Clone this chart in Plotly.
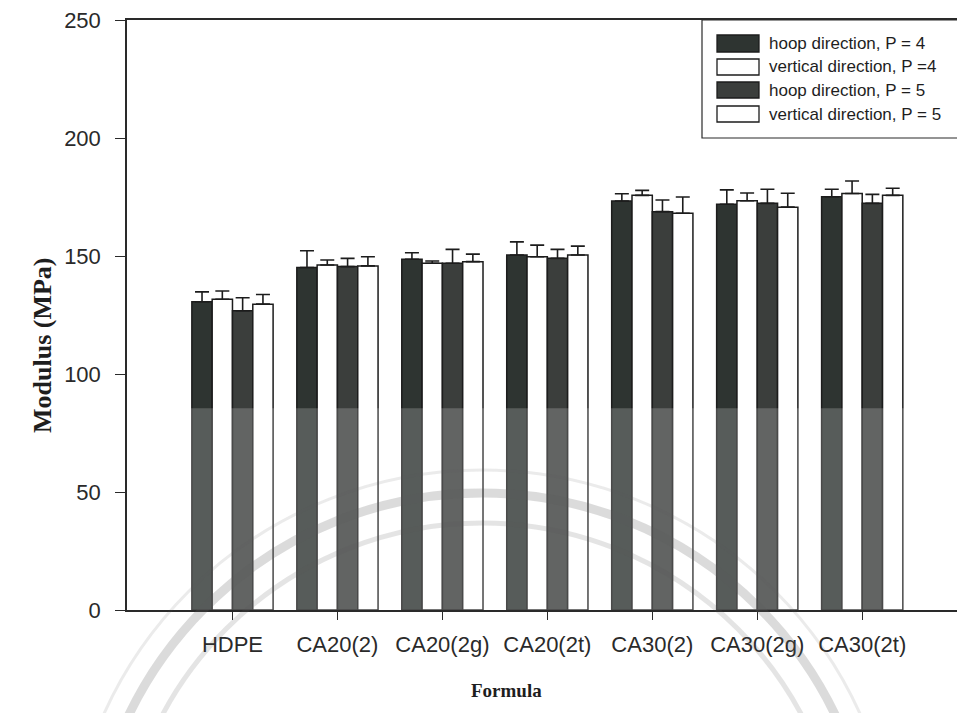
import plotly.graph_objects as go

# Formulations on the category axis
formulas = ["HDPE", "CA20(2)", "CA20(2g)", "CA20(2t)", "CA30(2)", "CA30(2g)", "CA30(2t)"]

# Tensile modulus (MPa) and standard deviations
hoop_p4 = [130.6, 145.1, 148.6, 150.4, 173.3, 171.9, 175.1]
hoop_p4_sd = [4.2, 7.1, 2.8, 5.6, 3.1, 6.1, 3.2]
vert_p4 = [131.7, 146.2, 146.9, 149.7, 175.7, 173.4, 176.5]
vert_p4_sd = [3.5, 2.1, 1.0, 4.9, 2.1, 3.3, 5.3]
hoop_p5 = [126.8, 145.5, 146.9, 149.0, 168.8, 172.3, 172.3]
hoop_p5_sd = [5.5, 3.5, 5.9, 3.8, 4.9, 6.0, 3.8]
vert_p5 = [129.6, 145.8, 147.6, 150.4, 168.1, 170.7, 175.7]
vert_p5_sd = [4.1, 3.9, 3.2, 3.8, 6.9, 5.9, 3.0]

series_names = ["hoop direction, P = 4", "vertical direction, P =4",
                "hoop direction, P = 5", "vertical direction, P = 5"]
series_values = [hoop_p4, vert_p4, hoop_p5, vert_p5]
series_sd = [hoop_p4_sd, vert_p4_sd, hoop_p5_sd, vert_p5_sd]
series_fill = ["#2e3431", "#ffffff", "#3b3e3c", "#ffffff"]

W, H = 957, 713
L, R, T, B = 127, 957, 20, 610  # plot area in pixels


def px(x):
    return (x - L) / (R - L)


def py(y):
    return (B - y) / (B - T)


fig = go.Figure()
for name, vals, sd, fill in zip(series_names, series_values, series_sd, series_fill):
    fig.add_trace(go.Bar(
        x=formulas, y=vals, name=name, showlegend=False,
        marker=dict(color=fill, line=dict(color="#1c1c1c", width=1.5)),
        error_y=dict(type="data", symmetric=False, array=sd,
                     arrayminus=[0] * len(sd), color="#1c1c1c",
                     thickness=1.6, width=7),
    ))

shapes = []
annotations = []

# lighter tone over the lower part of the bars
shapes.append(dict(type="rect", xref="paper", yref="y", x0=0, x1=1, y0=0, y1=85.5,
                   fillcolor="rgba(255,255,255,0.2)", line=dict(width=0), layer="above"))

# faint seal arcs in the background
for r, w, a in [(392, 9, 0.22), (362, 5, 0.16), (415, 3, 0.12)]:
    cx, cy = 482, 885
    shapes.append(dict(type="circle", xref="paper", yref="paper",
                       x0=px(cx - r), x1=px(cx + r), y0=py(cy + r), y1=py(cy - r),
                       line=dict(color=f"rgba(90,90,90,{a})", width=w), layer="above"))

# legend box
shapes.append(dict(type="rect", xref="paper", yref="paper",
                   x0=px(702), x1=px(975), y0=py(138), y1=py(T),
                   fillcolor="white", line=dict(color="#2a2a2a", width=1.2), layer="above"))
rows = [(35, 52), (59, 75), (82, 98), (106, 122)]
for (y0, y1), name, fill in zip(rows, series_names, series_fill):
    shapes.append(dict(type="rect", xref="paper", yref="paper",
                       x0=px(717), x1=px(759), y0=py(y1), y1=py(y0),
                       fillcolor=fill, line=dict(color="#1c1c1c", width=1.3), layer="above"))
    annotations.append(dict(xref="paper", yref="paper", x=px(767), y=py((y0 + y1) / 2),
                            text=name, showarrow=False, xanchor="left", yanchor="middle",
                            font=dict(family="Liberation Sans, Arial", size=17, color="#1e1e1e")))

# axis titles
annotations.append(dict(xref="paper", yref="paper", x=px(42), y=py(345), text="<b>Modulus (MPa)</b>",
                        textangle=-90, showarrow=False, xanchor="center", yanchor="middle",
                        font=dict(family="Liberation Serif, Times New Roman", size=26, color="#1e1e1e")))
annotations.append(dict(xref="paper", yref="paper", x=px(506), y=py(690), text="<b>Formula</b>",
                        showarrow=False, xanchor="center", yanchor="middle",
                        font=dict(family="Liberation Serif, Times New Roman", size=19, color="#1e1e1e")))

tick_font = dict(family="Liberation Sans, Arial", size=22, color="#2a2a2a")
fig.update_layout(
    width=W, height=H,
    margin=dict(l=L, r=W - R, t=T, b=H - B),
    paper_bgcolor="white", plot_bgcolor="white",
    barmode="group", bargap=0.226, bargroupgap=0,
    shapes=shapes, annotations=annotations,
    xaxis=dict(type="category", range=[-1.005, 6.903], showgrid=False, zeroline=False,
               showline=True, linecolor="#2a2a2a", linewidth=1.5, mirror=True,
               ticks="outside", ticklen=8, tickwidth=1.3, tickcolor="#2a2a2a",
               tickfont=tick_font, ticklabelstandoff=6),
    yaxis=dict(range=[0, 250], tickvals=[0, 50, 100, 150, 200, 250], showgrid=False,
               zeroline=False, showline=True, linecolor="#2a2a2a", linewidth=1.5,
               ticks="outside", ticklen=10, tickwidth=1.3, tickcolor="#2a2a2a",
               tickfont=tick_font, ticklabelstandoff=10),
)

fig.write_html("out.html")
